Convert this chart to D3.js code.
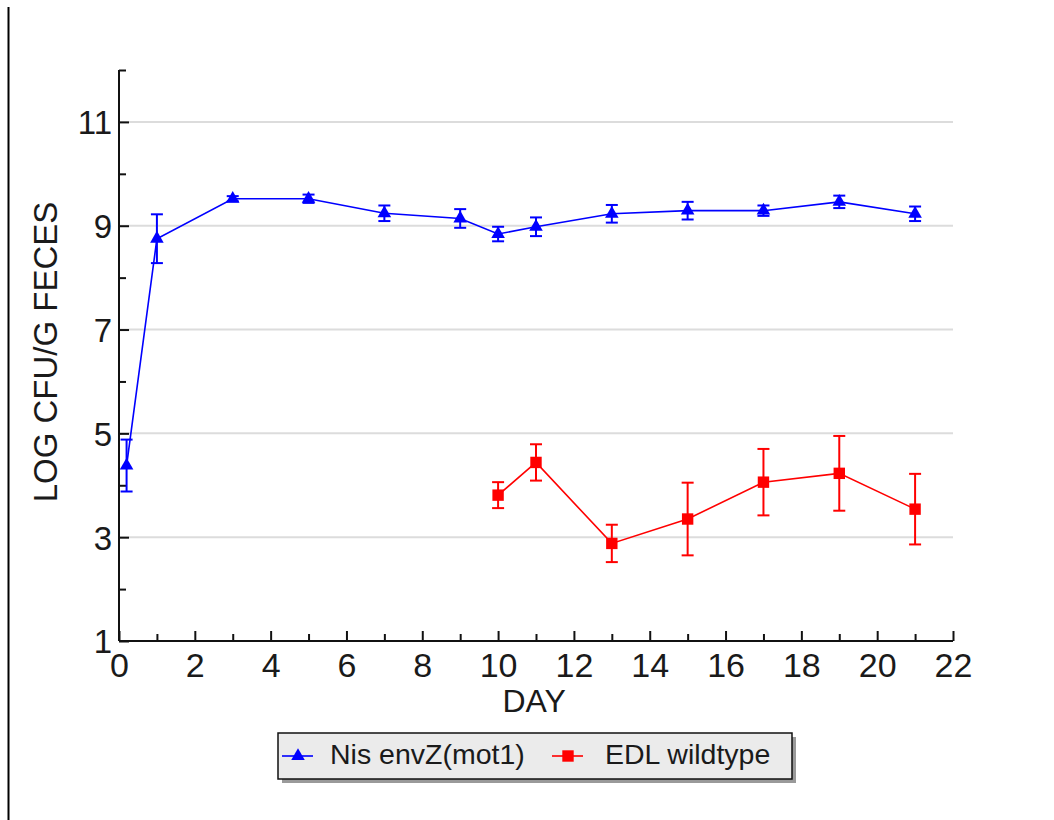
<!DOCTYPE html>
<html>
<head>
<meta charset="utf-8">
<script src="https://cdn.jsdelivr.net/npm/d3@7"></script>
<style>
  body { margin: 0; background: #fff; }
  text { font-family: "Liberation Sans", Arial, sans-serif; fill: #1a1a1a; }
</style>
</head>
<body>
<div id="chart"></div>
<script>
// data
var mutDays = [0.2, 1, 3, 5, 7, 9, 10, 11, 13, 15, 17, 19, 21];
var mutMean = [4.38, 8.75, 9.52, 9.52, 9.24, 9.14, 8.84, 8.98, 9.23, 9.29, 9.29, 9.46, 9.23];
var mutErr  = [0.50, 0.47, 0.05, 0.08, 0.15, 0.18, 0.14, 0.18, 0.17, 0.17, 0.10, 0.12, 0.14];

var wtDays = [10, 11, 13, 15, 17, 19, 21];
var wtMean = [3.81, 4.44, 2.88, 3.35, 4.06, 4.23, 3.54];
var wtErr  = [0.25, 0.35, 0.36, 0.70, 0.64, 0.72, 0.68];

var xMajor = [0, 2, 4, 6, 8, 10, 12, 14, 16, 18, 20, 22];
var xMinor = [1, 3, 5, 7, 9, 11, 13, 15, 17, 19, 21];
var yMajor = [1, 3, 5, 7, 9, 11];
var yMinor = [2, 4, 6, 8, 10, 12];

var seriesNames = ['Nis envZ(mot1)', 'EDL wildtype'];
var seriesColors = ['#0000ff', '#ff0000'];

var width = 1054;
var height = 820;
var margin = { top: 70, right: 101, bottom: 179, left: 119 };
var w = width - margin.left - margin.right;
var h = height - margin.top - margin.bottom;

var svg = d3.select('#chart').append('svg')
  .attr('width', width)
  .attr('height', height);

// left frame line
svg.append('line')
  .attr('x1', 8.5).attr('x2', 8.5)
  .attr('y1', 7).attr('y2', height)
  .attr('stroke', '#000').attr('stroke-width', 2);

var g = svg.append('g')
  .attr('transform', 'translate(' + margin.left + ',' + margin.top + ')');

var x = d3.scaleLinear().domain([0, 22]).range([0, w]);
var y = d3.scaleLinear().domain([1, 12]).range([h, 0]);

// grid
g.selectAll('.grid')
  .data(yMajor.filter(function(d) { return d > 1; }))
  .enter().append('line')
  .attr('x1', 0).attr('x2', w)
  .attr('y1', function(d) { return y(d); })
  .attr('y2', function(d) { return y(d); })
  .attr('stroke', '#dcdcdc').attr('stroke-width', 2);

// axes
var xAxis = d3.axisBottom(x).tickValues(xMajor).tickSize(-10).tickPadding(16)
  .tickFormat(d3.format('d'));
var xAxisMinor = d3.axisBottom(x).tickValues(xMinor).tickSize(-7).tickFormat('');
var yAxis = d3.axisLeft(y).tickValues(yMajor).tickSize(-10).tickPadding(7)
  .tickFormat(d3.format('d'));
var yAxisMinor = d3.axisLeft(y).tickValues(yMinor).tickSize(-7).tickFormat('');

function styleAxis(sel, size) {
  sel.select('.domain').remove();
  sel.selectAll('line').attr('stroke', '#111').attr('stroke-width', 2);
  sel.selectAll('text').style('font-size', size + 'px').attr('fill', '#111');
}

g.append('g').attr('transform', 'translate(0,' + h + ')').call(xAxisMinor).call(styleAxis, 34);
g.append('g').attr('transform', 'translate(0,' + h + ')').call(xAxis).call(styleAxis, 34)
  .selectAll('text').attr('dy', '0.58em');
g.append('g').call(yAxisMinor).call(styleAxis, 33);
g.append('g').call(yAxis).call(styleAxis, 33)
  .selectAll('text').attr('dy', '0.36em');

g.append('line').attr('x1', 0).attr('x2', w).attr('y1', h).attr('y2', h)
  .attr('stroke', '#111').attr('stroke-width', 2);
g.append('line').attr('x1', 0).attr('x2', 0).attr('y1', 0).attr('y2', h)
  .attr('stroke', '#111').attr('stroke-width', 2);

// axis titles
svg.append('text')
  .attr('x', margin.left + x(10.95)).attr('y', 712)
  .attr('text-anchor', 'middle')
  .style('font-size', '32px')
  .text('DAY');

svg.append('text')
  .attr('transform', 'translate(57,352) rotate(-90)')
  .attr('text-anchor', 'middle')
  .style('font-size', '33px')
  .text('LOG CFU/G FECES');

var triangle = d3.symbol().type(d3.symbolTriangle).size(80);
var square = d3.symbol().type(d3.symbolSquare).size(130);

function drawSeries(days, mean, err, color, symbol) {
  var pts = days.map(function(d, i) { return { x: d, y: mean[i], e: err[i] }; });
  var line = d3.line()
    .x(function(d) { return x(d.x); })
    .y(function(d) { return y(d.y); });

  g.append('path').datum(pts)
    .attr('d', line)
    .attr('fill', 'none')
    .attr('stroke', color).attr('stroke-width', 1.6);

  var eb = g.append('g').selectAll('g').data(pts).enter().append('g')
    .attr('stroke', color).attr('stroke-width', 2);
  eb.append('line')
    .attr('x1', function(d) { return x(d.x); })
    .attr('x2', function(d) { return x(d.x); })
    .attr('y1', function(d) { return y(d.y + d.e); })
    .attr('y2', function(d) { return y(d.y - d.e); });
  [1, -1].forEach(function(s) {
    eb.append('line')
      .attr('x1', function(d) { return x(d.x) - 6; })
      .attr('x2', function(d) { return x(d.x) + 6; })
      .attr('y1', function(d) { return y(d.y + s * d.e); })
      .attr('y2', function(d) { return y(d.y + s * d.e); });
  });

  g.append('g').selectAll('path').data(pts).enter().append('path')
    .attr('d', symbol)
    .attr('transform', function(d) { return 'translate(' + x(d.x) + ',' + y(d.y) + ')'; })
    .attr('fill', color);
}

drawSeries(mutDays, mutMean, mutErr, seriesColors[0], triangle);
drawSeries(wtDays, wtMean, wtErr, seriesColors[1], square);

// legend
var lg = svg.append('g').attr('transform', 'translate(278,733)');
lg.append('rect').attr('x', 4).attr('y', 4).attr('width', 514).attr('height', 46)
  .attr('fill', '#9a9a9a');
lg.append('rect').attr('x', 0).attr('y', 0).attr('width', 514).attr('height', 46)
  .attr('fill', '#ebebeb').attr('stroke', '#111').attr('stroke-width', 1.5);

var legendX = [4, 274];
var legendTextX = [52, 327];
var symbols = [triangle, square];
seriesNames.forEach(function(name, i) {
  var item = lg.append('g');
  item.append('line')
    .attr('x1', legendX[i]).attr('x2', legendX[i] + 31)
    .attr('y1', 23).attr('y2', 23)
    .attr('stroke', seriesColors[i]).attr('stroke-width', 1.6);
  item.append('path')
    .attr('d', symbols[i])
    .attr('transform', 'translate(' + (legendX[i] + 16) + ',23)')
    .attr('fill', seriesColors[i]);
  item.append('text')
    .attr('x', legendTextX[i]).attr('y', 31)
    .style('font-size', '28.5px')
    .text(name);
});
</script>
</body>
</html>
